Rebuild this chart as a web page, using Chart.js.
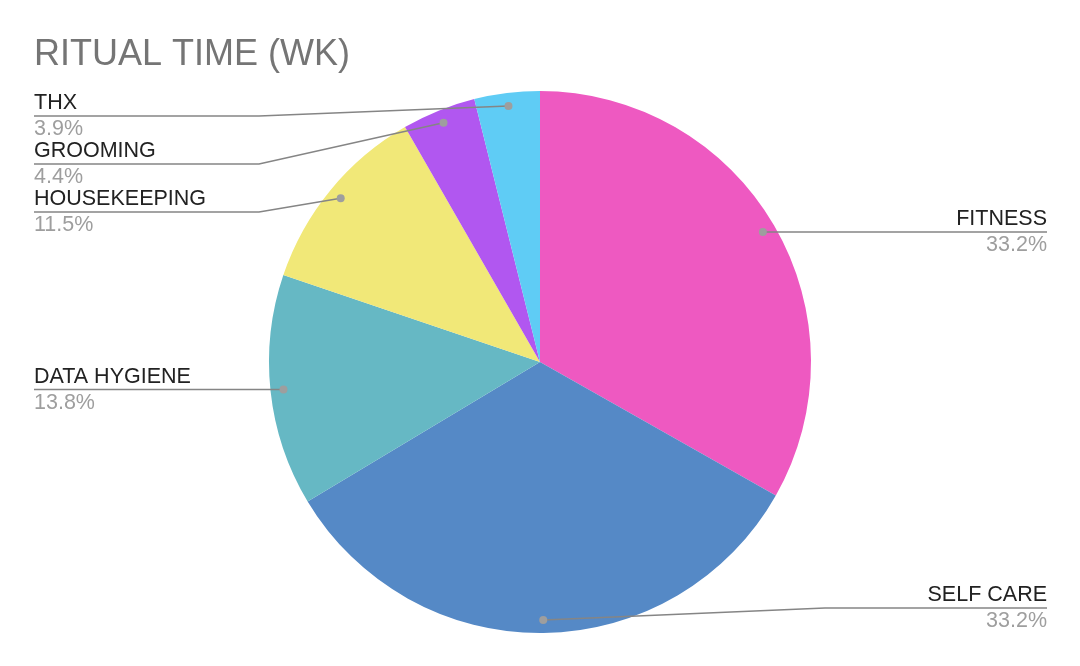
<!DOCTYPE html>
<html>
<head>
<meta charset="utf-8">
<script src="https://cdn.jsdelivr.net/npm/chart.js@4.4.1/dist/chart.umd.min.js"></script>
<style>
  html, body { margin: 0; padding: 0; background: #fff; }
  #wrap { width: 1080px; height: 666px; }
</style>
</head>
<body>
<div id="wrap"><canvas id="ritualChart" width="1080" height="666"></canvas></div>
<script>
const chartTitle = 'RITUAL TIME (WK)';
const categories = ['FITNESS', 'SELF CARE', 'DATA HYGIENE', 'HOUSEKEEPING', 'GROOMING', 'THX'];
const shares = [33.2, 33.2, 13.8, 11.5, 4.4, 3.9];
const sliceColors = ['#EE59C1', '#5589C6', '#66B8C4', '#F1E878', '#B157F0', '#5FCCF5'];

// draws the title and the outside labels with their leader lines
const calloutPlugin = {
  id: 'callouts',
  afterDraw(chart) {
    const ctx = chart.ctx;
    const meta = chart.getDatasetMeta(0);
    const total = shares.reduce((a, b) => a + b, 0);

    ctx.save();
    ctx.font = '36px "Liberation Sans", Arial, sans-serif';
    ctx.fillStyle = '#757575';
    ctx.textBaseline = 'alphabetic';
    ctx.textAlign = 'left';
    ctx.fillText(chartTitle, 34, 65);

    const minY = 116, maxY = 608, gap = 48;
    const left = [], right = [];
    meta.data.forEach((arc, i) => {
      const p = arc.getProps(['x', 'y', 'startAngle', 'endAngle', 'outerRadius'], true);
      const mid = (p.startAngle + p.endAngle) / 2;
      const r = p.outerRadius * 0.952;
      const dx = p.x + Math.cos(mid) * r;
      const dy = p.y + Math.sin(mid) * r;
      const item = { i, dx, dy, cx: p.x, R: p.outerRadius };
      (dx < p.x ? left : right).push(item);
    });

    [left, right].forEach(side => {
      side.sort((a, b) => a.dy - b.dy);
      let prev = -Infinity;
      side.forEach(it => {
        let y = Math.min(Math.max(it.dy, minY), maxY);
        if (y < prev + gap) y = prev + gap;
        it.ly = y;
        prev = y;
      });
    });

    const drawItem = (it, isLeft) => {
      const endX = isLeft ? 34 : 1047;
      const elbowX = isLeft ? it.cx - it.R - 10 : it.cx + it.R + 14;
      ctx.strokeStyle = '#858585';
      ctx.lineWidth = 1.5;
      ctx.beginPath();
      ctx.moveTo(it.dx, it.dy);
      if (Math.abs(it.ly - it.dy) > 0.5) {
        ctx.lineTo(elbowX, it.ly);
      }
      ctx.lineTo(endX, it.ly);
      ctx.stroke();

      ctx.fillStyle = '#9e9e9e';
      ctx.beginPath();
      ctx.arc(it.dx, it.dy, 4, 0, Math.PI * 2);
      ctx.fill();

      ctx.textAlign = isLeft ? 'left' : 'right';
      ctx.font = '21.5px "Liberation Sans", Arial, sans-serif';
      ctx.fillStyle = '#222222';
      ctx.fillText(categories[it.i], endX, it.ly - 7);
      ctx.fillStyle = '#9e9e9e';
      const pct = (shares[it.i] / total * 100).toFixed(1) + '%';
      ctx.fillText(pct, endX, it.ly + 19);
    };
    left.forEach(it => drawItem(it, true));
    right.forEach(it => drawItem(it, false));
    ctx.restore();
  }
};

new Chart(document.getElementById('ritualChart').getContext('2d'), {
  type: 'pie',
  data: {
    labels: categories,
    datasets: [{
      data: shares,
      backgroundColor: sliceColors,
      borderWidth: 0
    }]
  },
  options: {
    responsive: false,
    animation: false,
    layout: {
      padding: { top: 91, bottom: 33, left: 269, right: 269 }
    },
    plugins: {
      legend: { display: false },
      tooltip: { enabled: false },
      title: { display: false }
    }
  },
  plugins: [calloutPlugin]
});
</script>
</body>
</html>
